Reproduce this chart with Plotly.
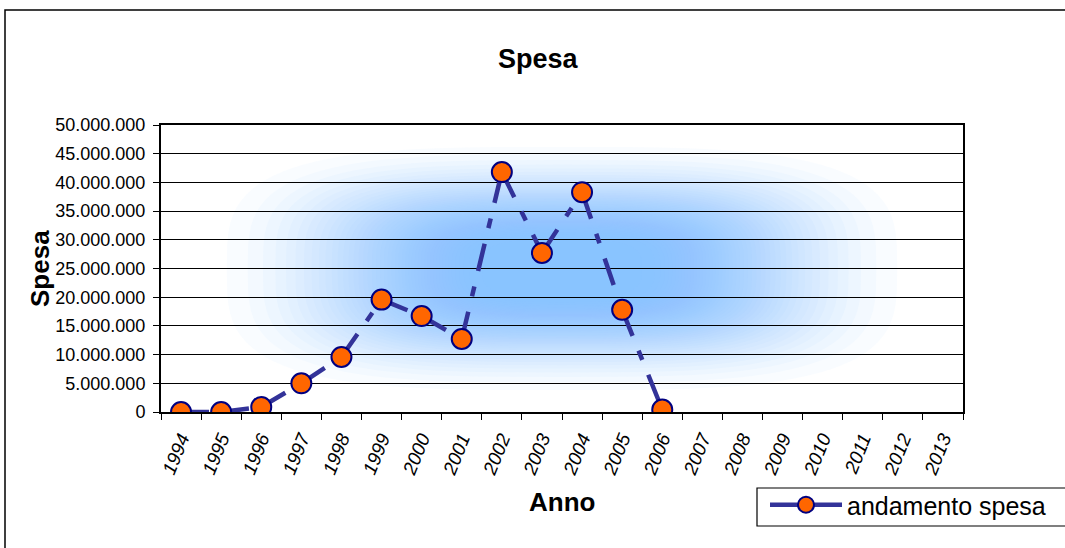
import math
import plotly.graph_objects as go

# ---- data ----
anni = ["1994", "1995", "1996", "1997", "1998", "1999", "2000", "2001", "2002",
        "2003", "2004", "2005", "2006", "2007", "2008", "2009", "2010", "2011",
        "2012", "2013"]
anni_dati = ["1994", "1995", "1996", "1997", "1998", "1999", "2000", "2001",
             "2002", "2003", "2004", "2005", "2006"]
spesa = [0, 0, 870000, 5000000, 9580000, 19580000, 16720000, 12720000,
         41800000, 27700000, 38300000, 17800000, 420000]
y_ticks = [0, 5000000, 10000000, 15000000, 20000000, 25000000, 30000000,
           35000000, 40000000, 45000000, 50000000]

FONT = "Arial, Liberation Sans, sans-serif"
LINE_COL = "#333399"
DASH = "28px,16px,10px,16px"

W, H = 1065, 548
L, R, T, B = 161, 102, 125, 136
pw, ph = W - L - R, H - T - B


def px_x(x):
    return (x - L) / pw


def px_y(y):
    return (H - B - y) / ph


fig = go.Figure()

# line segments (dash pattern restarts on each segment, like the original)
for i in range(len(spesa) - 1):
    fig.add_trace(go.Scatter(
        x=[anni_dati[i], anni_dati[i + 1]], y=[spesa[i], spesa[i + 1]],
        mode="lines", line=dict(color=LINE_COL, width=4.5, dash=DASH),
        showlegend=False, hoverinfo="skip"))

# markers
fig.add_trace(go.Scatter(
    x=anni_dati, y=spesa, mode="markers", showlegend=False,
    marker=dict(size=20, color="#FF6600", line=dict(color="#000080", width=2))))

# legend entry
fig.add_trace(go.Scatter(
    x=[None], y=[None], mode="lines+markers", name="andamento spesa",
    line=dict(color=LINE_COL, width=4.5),
    marker=dict(size=20, color="#FF6600", line=dict(color="#000080", width=2))))

shapes = []
# soft gradient background (superellipse layers) centred in the plot area
A = 400 / pw
Bv = 145 / ph
P = 3.4
alpha = 0.05
N = 48
maxC = 1 - (1 - alpha) ** N
a_in, b_out = 0.2, 1.0


def superellipse(r, n=100):
    pts = []
    for j in range(n):
        th = 2 * math.pi * j / n
        c, s = math.cos(th), math.sin(th)
        x = 0.5 + r * A * math.copysign(abs(c) ** (2 / P), c)
        y = 0.5 + r * Bv * math.copysign(abs(s) ** (2 / P), s)
        pts.append(f"{x:.5f},{y:.5f}")
    return "M" + " L".join(pts) + " Z"


for k in range(1, N + 1):
    f = min((1 - (1 - alpha) ** k) / maxC, 1.0)
    # ease-out so the outer rim fades very gently
    g = f ** 0.8
    r = a_in + (b_out - a_in) * math.acos(2 * g - 1) / math.pi
    shapes.append(dict(type="path", xref="paper", yref="paper",
                       path=superellipse(r),
                       fillcolor=f"rgba(142,198,255,{alpha})",
                       line=dict(width=0), layer="below"))
# outer chart frame (cropped)
shapes.append(dict(type="rect", xref="paper", yref="paper",
                   x0=px_x(5), x1=px_x(1200), y0=px_y(700), y1=px_y(10),
                   line=dict(color="black", width=1.5), fillcolor="rgba(0,0,0,0)"))
# legend frame
shapes.append(dict(type="rect", xref="paper", yref="paper",
                   x0=px_x(757), x1=px_x(1100), y0=px_y(526), y1=px_y(488),
                   line=dict(color="black", width=1.2), fillcolor="rgba(0,0,0,0)"))

annotations = [
    dict(text="<b>Spesa</b>", x=px_x(538), y=px_y(59), xref="paper", yref="paper",
         showarrow=False, font=dict(family=FONT, size=27, color="black"),
         xanchor="center", yanchor="middle"),
    dict(text="<b>Anno</b>", x=px_x(562), y=px_y(502), xref="paper", yref="paper",
         showarrow=False, font=dict(family=FONT, size=26, color="black"),
         xanchor="center", yanchor="middle"),
    dict(text="<b>Spesa</b>", x=px_x(40), y=px_y(268), xref="paper", yref="paper",
         showarrow=False, textangle=-90, font=dict(family=FONT, size=26, color="black"),
         xanchor="center", yanchor="middle"),
]

fig.update_layout(
    width=W, height=H,
    margin=dict(l=L, r=R, t=T, b=B, pad=0),
    paper_bgcolor="white", plot_bgcolor="white",
    separators=",.",
    font=dict(family=FONT, color="black"),
    shapes=shapes, annotations=annotations,
    showlegend=True,
    legend=dict(x=px_x(765), y=px_y(482), xanchor="left", yanchor="top",
                bgcolor="rgba(0,0,0,0)", borderwidth=0,
                font=dict(family=FONT, size=25, color="black"),
                itemwidth=72),
)

fig.update_xaxes(
    type="category", categoryorder="array", categoryarray=anni,
    range=[-0.5, len(anni) - 0.5],
    tickson="boundaries", ticks="outside", ticklen=6, tickcolor="black",
    tickangle=-68, ticklabelstandoff=6,
    tickfont=dict(family=FONT, size=19, style="italic", color="black"),
    showline=True, linecolor="black", linewidth=2, mirror=True,
    showgrid=False, zeroline=False,
)
fig.update_yaxes(
    range=[0, 50000000], tickvals=y_ticks, tickformat=",d",
    ticks="outside", ticklen=6, tickcolor="black", ticklabelstandoff=4,
    tickfont=dict(family=FONT, size=18, color="black"),
    showline=True, linecolor="black", linewidth=2, mirror=True,
    showgrid=True, gridcolor="black", gridwidth=1, zeroline=False,
)

fig.write_html("out.html",
               config={"displayModeBar": False},
               post_script="document.body.style.margin='0px';"
                           "document.body.style.overflow='hidden';")
